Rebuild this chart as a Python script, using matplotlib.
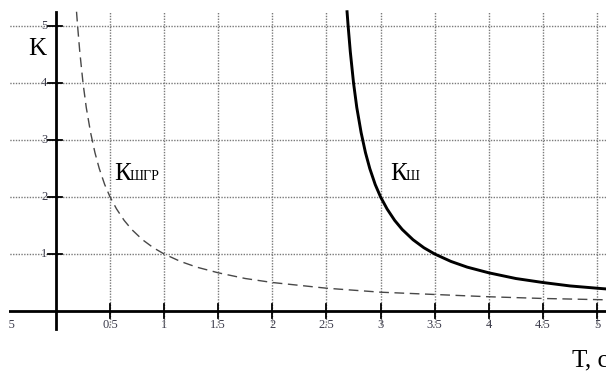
import matplotlib
matplotlib.use("Agg")
import matplotlib.pyplot as plt

# Data
t_dash = [0.19, 0.2, 0.22, 0.25, 0.28, 0.32, 0.36, 0.4, 0.45, 0.5, 0.56, 0.63, 0.7, 0.8,
          0.9, 1.0, 1.15, 1.3, 1.5, 1.75, 2.0, 2.5, 3.0, 3.5, 4.0, 4.5, 5.0, 5.1]
k_dash = [5.25, 5.0, 4.55, 4.0, 3.57, 3.13, 2.78, 2.5, 2.22, 2.0, 1.79, 1.59, 1.43, 1.25,
          1.11, 1.0, 0.87, 0.77, 0.67, 0.57, 0.5, 0.4, 0.33, 0.29, 0.25, 0.22, 0.2, 0.196]

t_solid = [2.69, 2.7, 2.72, 2.75, 2.78, 2.82, 2.86, 2.9, 2.95, 3.0, 3.06, 3.13, 3.2, 3.3,
           3.4, 3.5, 3.65, 3.8, 4.0, 4.25, 4.5, 4.75, 5.0, 5.1]
k_solid = [5.25, 5.0, 4.55, 4.0, 3.57, 3.13, 2.78, 2.5, 2.22, 2.0, 1.79, 1.59, 1.43, 1.25,
           1.11, 1.0, 0.87, 0.77, 0.67, 0.57, 0.5, 0.44, 0.4, 0.385]

x_ticks = [0.5, 1, 1.5, 2, 2.5, 3, 3.5, 4, 4.5, 5]
x_tick_labels = ["0.5", "1", "1.5", "2", "2.5", "3", "3.5", "4", "4.5", "5"]
y_ticks = [1, 2, 3, 4, 5]
y_tick_labels = ["1", "2", "3", "4", "5"]

plt.rcParams['font.family'] = ['Liberation Serif', 'DejaVu Serif']

fig = plt.figure(figsize=(6.06, 3.74), dpi=100)
# plot area starts a few pixels from the left edge (content clipped there)
ax = fig.add_axes([9 / 606, 0, 597 / 606, 1])
ax.set_xlim(-0.434, 5.083)
ax.set_ylim(-1.105, 5.456)
ax.axis('off')

grid_kw = dict(color='#7a7a7a', lw=1.0, linestyle=(0, (1, 1)), zorder=3)
for xv in x_ticks:
    ax.plot([xv, xv], [-0.25, 5.24], **grid_kw)
for yv in y_ticks:
    ax.plot([-0.45, 5.2], [yv, yv], **grid_kw)

# axes
ax.plot([-0.45, 5.2], [0, 0], color='black', lw=2.0, zorder=4)
ax.plot([0, 0], [-0.32, 5.24], color='black', lw=2.0, zorder=4)

# tick marks
for xv in x_ticks:
    ax.plot([xv, xv], [-0.12, 0.12], color='black', lw=1.3, zorder=4)
for yv in y_ticks:
    ax.plot([-0.07, 0.06], [yv, yv], color='black', lw=1.3, zorder=4)

# tick labels
ax.text(-0.47, -0.25, "-0.5", ha='center', va='center', fontsize=9, color='#3a3a4a',
        zorder=2, clip_on=True)
for xv, lab in zip(x_ticks, x_tick_labels):
    ax.text(xv, -0.25, lab, ha='center', va='center', fontsize=9, color='#3a3a4a', zorder=2)
for yv, lab in zip(y_ticks, y_tick_labels):
    ax.text(-0.08, yv, lab, ha='right', va='center', fontsize=9, color='#3a3a4a', zorder=2)

# curves
ax.plot(t_dash, k_dash, color='#484848', lw=1.0, dashes=(7, 4), zorder=5)
ax.plot(t_solid, k_solid, color='black', lw=2.1, zorder=5)

# labels
ax.text(-0.26, 4.6, "K", fontsize=18, ha='left', va='center', color='black')
ax.text(0.535, 2.3, "К", fontsize=18, ha='left', va='baseline', color='black')
ax.text(0.68, 2.3, "ШГР", fontsize=10, ha='left', va='baseline', color='black')
ax.text(3.085, 2.3, "К", fontsize=18, ha='left', va='baseline', color='black')
ax.text(3.23, 2.3, "Ш", fontsize=10, ha='left', va='baseline', color='black')
ax.text(4.77, -0.97, "Т, с", fontsize=18, ha='left', va='baseline', color='black')

fig.savefig("out.png", dpi=100)
